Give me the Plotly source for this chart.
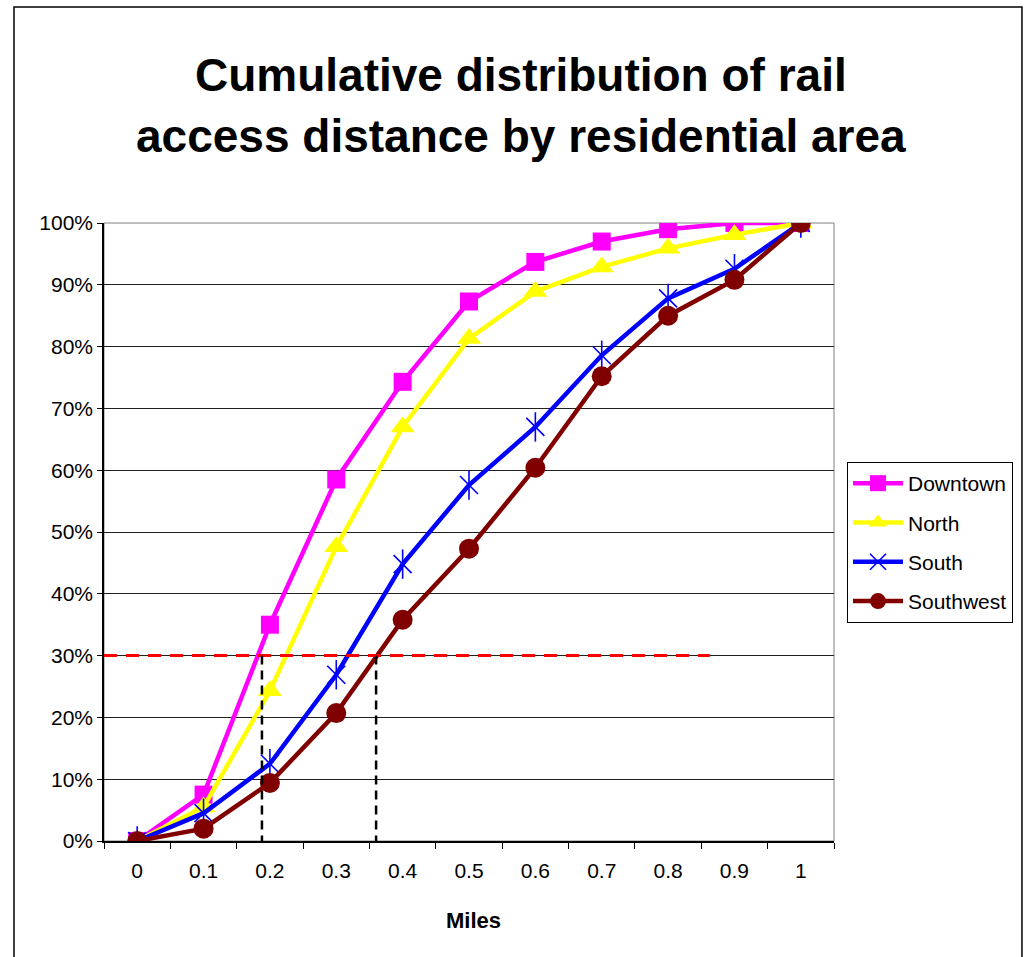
import plotly.graph_objects as go

# Distance bins (miles) and cumulative share of rail riders in each area (%)
miles = ["0", "0.1", "0.2", "0.3", "0.4", "0.5", "0.6", "0.7", "0.8", "0.9", "1"]
downtown = [0, 7.5, 35.0, 58.5, 74.3, 87.3, 93.7, 97.0, 99.0, 100.0, 100.0]
north = [0, 5.5, 24.3, 47.6, 67.0, 81.3, 88.9, 92.9, 95.9, 98.1, 100.0]
south = [0, 4.5, 12.5, 26.9, 44.8, 57.6, 67.0, 78.6, 87.8, 92.6, 100.0]
southwest = [0, 2.0, 9.4, 20.7, 35.8, 47.3, 60.4, 75.2, 85.0, 90.8, 100.0]

# Reference level and the distances where it is reached
ref_share = 30
ref_line_end_miles = 0.863
ref_cross_miles = [0.188, 0.36]

FONT = "Liberation Sans, Arial, sans-serif"


def frac(vals):
    return [v / 100 for v in vals]


def idx(m):
    # position on the category axis for a distance in miles
    return m * 10


fig = go.Figure()

fig.add_trace(go.Scatter(
    x=miles, y=frac(downtown), name="Downtown", legendgroup="downtown",
    mode="lines+markers",
    line=dict(color="#FF00FF", width=4.5),
    marker=dict(symbol="square", size=18, color="#FF00FF"),
))
fig.add_trace(go.Scatter(
    x=miles, y=frac(north), name="North", legendgroup="north",
    mode="lines+markers",
    line=dict(color="#FFFF00", width=4.5),
    marker=dict(symbol="triangle-up", size=21, color="#FFFF00"),
))
fig.add_trace(go.Scatter(
    x=miles, y=frac(south), name="South", legendgroup="south",
    mode="lines+markers",
    line=dict(color="#0000FF", width=4.5),
    marker=dict(symbol="x-thin-open", size=18, color="#0000FF",
                line=dict(color="#0000FF", width=1.6)),
))
# vertical stroke completing the star marker
fig.add_trace(go.Scatter(
    x=miles, y=frac(south), legendgroup="south", mode="markers",
    showlegend=False, hoverinfo="skip",
    marker=dict(symbol="line-ns-open", size=21, color="#0000FF",
                line=dict(color="#0000FF", width=1.6)),
))
fig.add_trace(go.Scatter(
    x=miles, y=frac(southwest), name="Southwest", legendgroup="southwest",
    mode="lines+markers",
    line=dict(color="#800000", width=4.5),
    marker=dict(symbol="circle", size=20, color="#800000"),
))

shapes = [
    # plot area border
    dict(type="rect", xref="paper", yref="paper", x0=0, x1=1, y0=0, y1=1,
         line=dict(color="#808080", width=1), layer="below"),
    # outer chart frame
    dict(type="rect", xref="paper", yref="paper", x0=-0.1233, x1=1.2575,
         y0=-0.22, y1=1.3495, line=dict(color="black", width=1.5)),
    # reference share
    dict(type="line", xref="x", yref="y", x0=-0.5, x1=idx(ref_line_end_miles),
         y0=ref_share / 100, y1=ref_share / 100,
         line=dict(color="#FF0000", width=3, dash="13px,9px"), layer="above"),
]
for m, y_end in zip(ref_cross_miles, [-0.007, -0.02]):
    shapes.append(dict(type="line", xref="x", yref="y", x0=idx(m), x1=idx(m),
                       y0=ref_share / 100, y1=y_end,
                       line=dict(color="black", width=2.5, dash="9px,6px"),
                       layer="above"))

annotations = [
    dict(text="<b>Cumulative distribution of rail</b>", xref="paper", yref="paper",
         x=0.571, y=(841 - 75) / 618, xanchor="center", yanchor="middle",
         showarrow=False, font=dict(family=FONT, size=46, color="black")),
    dict(text="<b>access distance by residential area</b>", xref="paper", yref="paper",
         x=0.571, y=(841 - 136) / 618, xanchor="center", yanchor="middle",
         showarrow=False, font=dict(family=FONT, size=46, color="black")),
    dict(text="<b>Miles</b>", xref="paper", yref="paper",
         x=(473 - 104) / 730, y=(841 - 920) / 618, xanchor="center", yanchor="middle",
         showarrow=False, font=dict(family=FONT, size=22, color="black")),
]

fig.update_layout(
    width=1027, height=957, autosize=False,
    margin=dict(l=104, r=193, t=223, b=116),
    paper_bgcolor="white", plot_bgcolor="white",
    font=dict(family=FONT, color="black"),
    shapes=shapes, annotations=annotations,
    showlegend=True,
    legend=dict(
        x=(847 - 104) / 730, y=(841 - 462) / 618, xanchor="left", yanchor="top",
        bordercolor="black", borderwidth=1, bgcolor="white",
        font=dict(family=FONT, size=21, color="black"),
        itemwidth=50, traceorder="grouped", tracegroupgap=9,
    ),
)

fig.update_xaxes(
    type="category", range=[-0.5, 10.5],
    showline=True, linecolor="black", linewidth=1.5,
    ticks="outside", tickson="boundaries", ticklen=6, tickcolor="black", tickwidth=1,
    showgrid=False, zeroline=False, ticklabelstandoff=10,
    tickfont=dict(family=FONT, size=21, color="black"),
)
fig.update_yaxes(
    range=[0, 1], dtick=0.1, tickformat=".0%",
    showline=True, linecolor="black", linewidth=1.5,
    ticks="outside", ticklen=5, tickcolor="black",
    showgrid=True, gridcolor="#202020", gridwidth=1, zeroline=False,
    tickfont=dict(family=FONT, size=21, color="black"),
)

fig.write_html("out.html")
